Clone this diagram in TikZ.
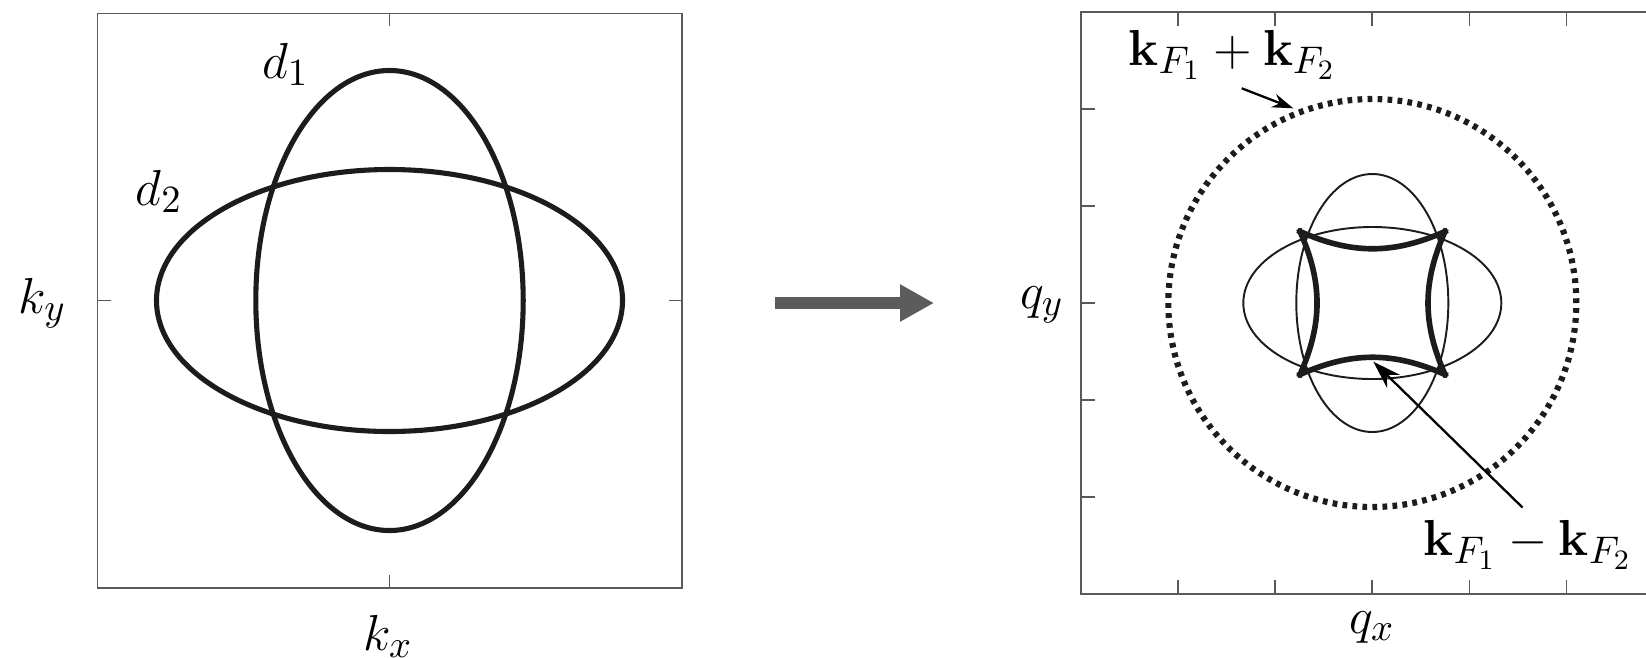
\documentclass[tikz,border=0pt]{standalone}
\usepackage{amsmath}
\definecolor{axisgray}{RGB}{90,90,90}
\definecolor{curveblack}{RGB}{28,28,28}
\definecolor{arrowgray}{RGB}{92,92,92}
\usepackage{tikz}
\usetikzlibrary{arrows.meta}

\begin{document}
\begin{tikzpicture}[
  frame/.style={draw=axisgray, line width=0.5pt},
  fermi/.style={draw=curveblack, line width=1.45pt},
  thinfs/.style={draw=curveblack, line width=0.55pt},
  nesting/.style={draw=curveblack, line width=1.6pt, line cap=rect},
  lbl/.style={font=\fontsize{15.5}{18}\selectfont, anchor=base, inner sep=0pt},
  pointer/.style={draw=black, line width=0.65pt, -{Stealth[length=6pt,width=4pt]}}
]
  \useasboundingbox (0,0) rectangle (16.46,6.57);
  \clip (0,0) rectangle (16.46,6.57);

  % left panel: the two Fermi surfaces
  \draw[frame] (0.976,0.69) rectangle (6.817,6.436);
  \draw[frame] (3.895,6.436) -- (3.895,6.306) (3.895,0.69) -- (3.895,0.82)
               (0.976,3.565) -- (1.106,3.565) (6.817,3.565) -- (6.687,3.565);
  \draw[fermi] (3.895,3.565) ellipse [x radius=1.337, y radius=2.30];
  \draw[fermi] (3.895,3.565) ellipse [x radius=2.33, y radius=1.31];
  \node[lbl] (done) at (2.855,5.787) {$d_1$};
  \node[lbl] (dtwo) at (1.59,4.52) {$d_2$};
  \node[lbl] (ky) at (0.425,3.437) {$k_y$};
  \node[lbl] (kx) at (3.88,0.07) {$k_x$};

  % big arrow between the panels
  \coordinate (bigtail) at (7.75,3.54);
  \coordinate (bighead) at (9.34,3.54);
  \draw[arrowgray, line width=3.3pt, -{Triangle[length=0.34cm,width=0.35cm]}] (bigtail) -- (bighead);

  % right panel: q space
  \draw[frame] (10.81,0.627) rectangle (16.636,6.453);
  \foreach \x in {11.781,12.752,13.723,14.694,15.665} {
    \draw[frame] (\x,0.627) -- (\x,0.767);
    \draw[frame] (\x,6.453) -- (\x,6.313);
  }
  \foreach \y in {1.598,2.569,3.54,4.511,5.482} {
    \draw[frame] (10.81,\y) -- (10.95,\y);
  }
  \draw[curveblack, line width=1.75pt, dash pattern=on 1.35pt off 1.5pt] (13.723,3.54) circle [radius=2.04];
  \draw[thinfs] (13.723,3.54) ellipse [x radius=1.29, y radius=0.76];
  \draw[thinfs] (13.723,3.54) ellipse [x radius=0.76, y radius=1.29];

  % nesting square
  \coordinate (ctl) at (13.0,4.255);
  \coordinate (ctr) at (14.45,4.255);
  \coordinate (cbr) at (14.45,2.825);
  \coordinate (cbl) at (13.0,2.825);
  \draw[nesting] (ctl) to[bend right=24] (ctr);
  \draw[nesting] (ctr) to[bend right=24] (cbr);
  \draw[nesting] (cbr) to[bend right=24] (cbl);
  \draw[nesting] (cbl) to[bend right=24] (ctl);

  \node[lbl] (ksum) at (12.325,5.92) {$\mathbf{k}_{F_1}+\mathbf{k}_{F_2}$};
  \node[lbl] (kdiff) at (15.28,1.02) {$\mathbf{k}_{F_1}-\mathbf{k}_{F_2}$};
  \node[lbl] (qx) at (13.72,0.24) {$q_x$};
  \node[lbl] (qy) at (10.42,3.487) {$q_y$};

  \coordinate (sumtail) at (12.417,5.687);
  \coordinate (sumtip) at (12.933,5.487);
  \draw[pointer] (sumtail) -- (sumtip);
  \coordinate (difftail) at (15.226,1.494);
  \coordinate (difftip) at (13.733,2.953);
  \draw[pointer, -{Stealth[length=8pt,width=5.2pt]}] (difftail) -- (difftip);
\end{tikzpicture}
\end{document}
